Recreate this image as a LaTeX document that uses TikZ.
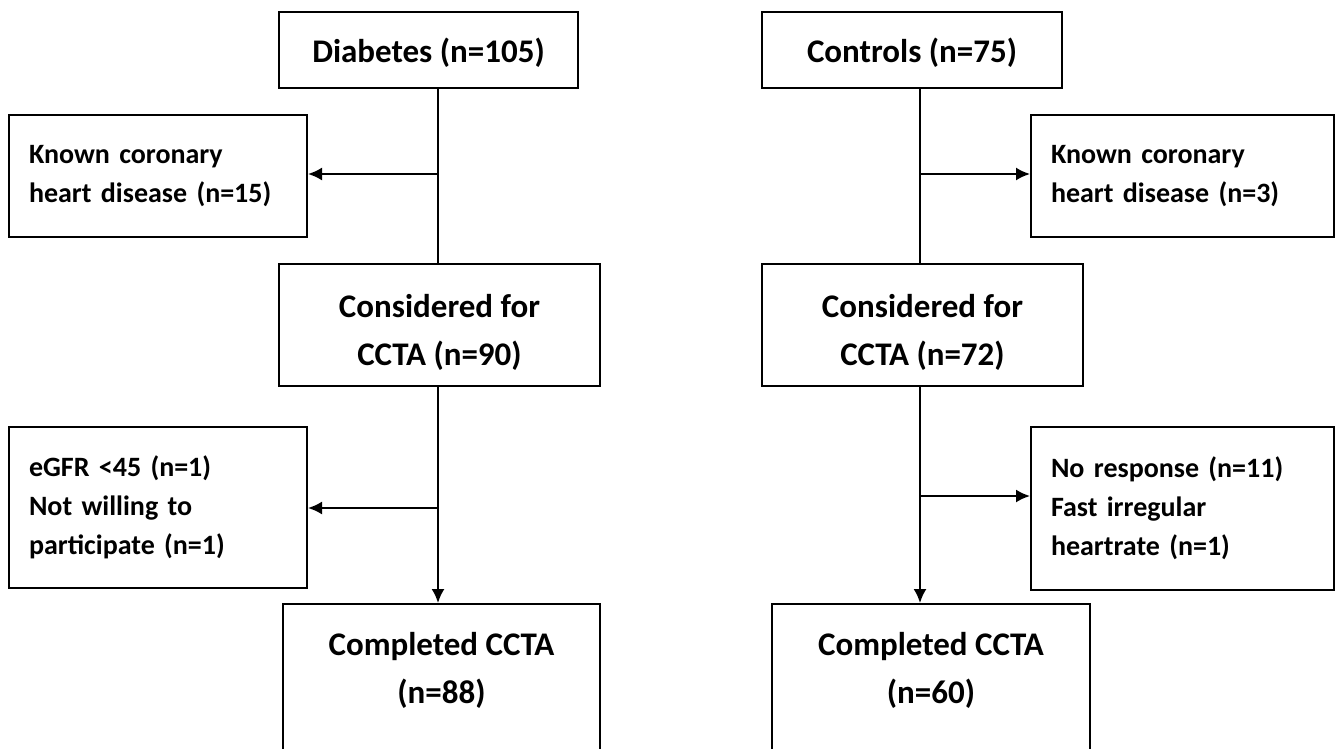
\documentclass[tikz,border=0pt]{standalone}
\usepackage{fontspec}
\setmainfont{Carlito}
\usetikzlibrary{arrows.meta}

\begin{document}
\begin{tikzpicture}[x=1pt, y=-1pt, line width=2pt,
        arr/.style = {-{Latex[length=14pt,width=13pt]}},
        main/.style = {draw, align=center, inner sep=0pt,
            font=\fontsize{33}{48}\selectfont\bfseries},
        side/.style = {draw, inner xsep=20pt, inner ysep=0pt,
            execute at begin node={\raggedright},
            font=\fontsize{28}{39}\selectfont\bfseries}]
    \useasboundingbox (0,0) rectangle (1341,749);
    \clip (0,0) rectangle (1341,749);

    % diabetes arm
    \node[main, minimum width=299pt, minimum height=76pt] (diab) at (428.5,50) {\rule{0pt}{30pt}Diabetes (n=105)};
    \node[side, text width=258pt, minimum height=122pt] (excL1) at (158,176) {Known coronary\\heart disease (n=15)};
    \node[main, minimum width=321pt, minimum height=122pt] (consL) at (439.5,325) {\rule{0pt}{38pt}Considered for\\CCTA (n=90)};
    \node[side, text width=258pt, minimum height=161pt] (excL2) at (158,507.5) {eGFR <45 (n=1)\\Not willing to\\participate (n=1)};
    \node[main, anchor=north, minimum width=317pt, inner ysep=28pt, text depth=170pt] (compL) at (441.5,603) {Completed CCTA\\(n=88)};

    % control arm
    \node[main, minimum width=300pt, minimum height=76pt] (ctrl) at (912,50) {\rule{0pt}{30pt}Controls (n=75)};
    \node[side, text width=263pt, minimum height=122pt] (excR1) at (1182.5,176) {Known coronary\\heart disease (n=3)};
    \node[main, minimum width=321pt, minimum height=122pt] (consR) at (922.5,325) {\rule{0pt}{38pt}Considered for\\CCTA (n=72)};
    \node[side, text width=263pt, minimum height=163pt] (excR2) at (1182.5,508.5) {No response (n=11)\\Fast irregular\\heartrate (n=1)};
    \node[main, anchor=north, minimum width=318pt, inner ysep=28pt, text depth=170pt] (compR) at (931,603) {Completed CCTA\\(n=60)};

    \coordinate (jL1) at (438,174);
    \coordinate (jL2) at (438,508);
    \coordinate (jR1) at (920,174);
    \coordinate (jR2) at (920,496);

    \draw (diab.south -| jL1) -- (consL.north -| jL1);
    \draw[arr] (jL1) -- (excL1.east |- jL1);
    \draw[arr] (consL.south -| jL2) -- (compL.north -| jL2);
    \draw[arr] (jL2) -- (excL2.east |- jL2);

    \draw (ctrl.south -| jR1) -- (consR.north -| jR1);
    \draw[arr] (jR1) -- (excR1.west |- jR1);
    \draw[arr] (consR.south -| jR2) -- (compR.north -| jR2);
    \draw[arr] (jR2) -- (excR2.west |- jR2);
\end{tikzpicture}
\end{document}
